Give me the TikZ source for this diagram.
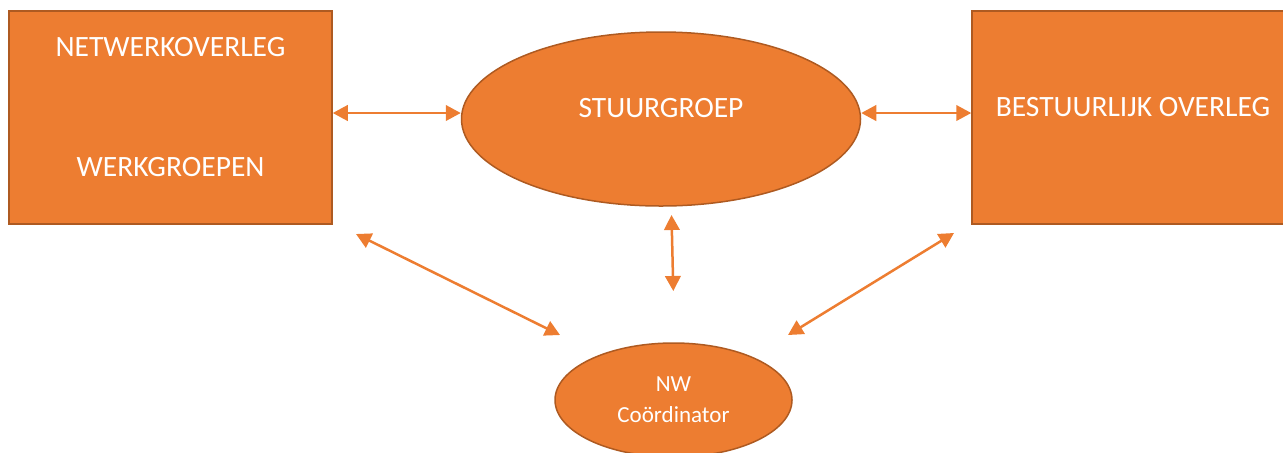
\documentclass[tikz,border=0pt]{standalone}
\usepackage{fontspec}
\setmainfont{Carlito}
\usetikzlibrary{shapes.geometric,arrows.meta}
\definecolor{oranje}{HTML}{ED7D31}
\definecolor{oranjerand}{HTML}{AE5A21}
\tikzset{
  blok/.style={draw=oranjerand, fill=oranje, line width=0.75pt, minimum width=161.5pt, minimum height=106.5pt, inner sep=0pt},
  ovaal/.style={ellipse, draw=oranjerand, fill=oranje, line width=0.75pt, inner sep=0pt},
  tekst/.style={text=white, inner sep=0pt, font=\fontsize{14.75}{17}\selectfont},
  pijl/.style={draw=oranje, line width=1.25pt, {Triangle[length=7.5pt,width=7.75pt]}-{Triangle[length=7.5pt,width=7.75pt]}}
}
\begin{document}
\begin{tikzpicture}[x=0.5pt,y=-0.5pt]
      \useasboundingbox (0,0) rectangle (1283,452);
      \clip (0,0) rectangle (1283,452);
      \draw
        (170.5,117.5) node[blok] (netwerk){}
        (1133.5,117.5) node[blok] (bestuur){}
        (661,119) node[ovaal, minimum width=199.5pt, minimum height=87pt] (stuur){}
        (673.5,400) node[ovaal, minimum width=118.5pt, minimum height=57pt,
          text=white, align=center, font=\fontsize{11.5}{15.5}\selectfont] (nw){NW\\Coördinator};
      \draw
        (170.5,47) node[tekst] (netwerkT){NETWERKOVERLEG}
        (170.5,167) node[tekst] (werkT){WERKGROEPEN}
        (661,108) node[tekst] (stuurT){STUURGROEP}
        (1133,107) node[tekst] (bestuurT){BESTUURLIJK OVERLEG};
      \coordinate (stuurO) at (671.5,215);
      \coordinate (nwB) at (673.3,291);
      \coordinate (nwL) at (560,335);
      \coordinate (nwR) at (788,335);
      \coordinate (netwerkO) at (356,234);
      \coordinate (bestuurO) at (954,233);
      \begin{scope}[pijl]
        \draw ([yshift=2.25pt]netwerk.east) to ([yshift=3pt]stuur.west);
        \draw ([yshift=3pt]stuur.east) to ([yshift=2.25pt]bestuur.west);
        \draw (stuurO) to (nwB);
        \draw (netwerkO) to (nwL);
        \draw (bestuurO) to (nwR);
      \end{scope}
    \end{tikzpicture}
\end{document}
